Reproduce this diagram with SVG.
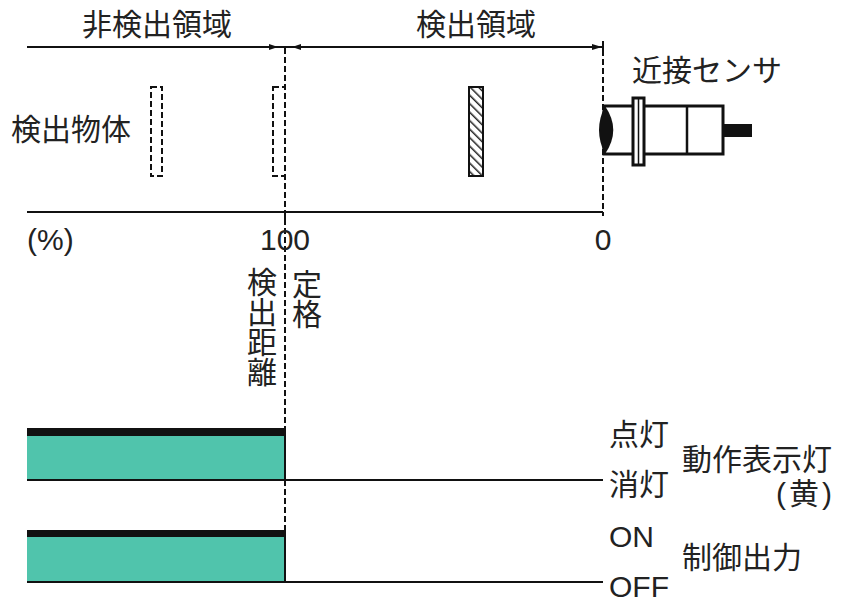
<svg xmlns="http://www.w3.org/2000/svg" width="841" height="605" viewBox="0 0 841 605">
<style>
text{font-family:"Liberation Sans","Noto Sans CJK JP",sans-serif;font-size:30px;fill:#222;}
.ln{stroke:#111;stroke-width:2;fill:none;}
.dash{stroke:#111;stroke-width:2;fill:none;stroke-dasharray:6,3;}
.bar{fill:#50c4ac;}
.band{fill:#111;}
.ah{fill:#111;}
</style>
<defs>
<pattern id="hatch" width="6" height="6" patternUnits="userSpaceOnUse" patternTransform="rotate(-45)">
<rect width="6" height="6" fill="#fff"/>
<line x1="0" y1="0" x2="0" y2="6" stroke="#222" stroke-width="3"/>
</pattern>
</defs>
<rect width="841" height="605" fill="#fff"/>

<g id="connectors">
<line class="ln" x1="27" y1="47" x2="603" y2="47"/>
<polygon class="ah" points="269,44 278,47 269,50"/>
<polygon class="ah" points="292,47 301,44 301,50"/>
<polygon class="ah" points="592,44 602,47 592,50"/>
<line class="ln" x1="603" y1="41" x2="603" y2="50"/>
<line class="dash" x1="285" y1="48" x2="285" y2="582"/>
<line class="dash" x1="603" y1="50" x2="603" y2="212"/>
<line class="ln" x1="27" y1="212" x2="603" y2="212"/>
<line class="ln" x1="285" y1="212" x2="285" y2="222"/>
<line class="ln" x1="603" y1="212" x2="603" y2="216"/>
</g>

<g id="labels-top">
<text x="157" y="35" text-anchor="middle">非検出領域</text>
<text x="476" y="35" text-anchor="middle">検出領域</text>
<text x="11" y="140">検出物体</text>
<text x="27" y="250">(%)</text>
<text x="285" y="250" text-anchor="middle">100</text>
<text x="603" y="250" text-anchor="middle">0</text>
</g>

<g id="object-far">
<rect class="dash" x="151" y="87" width="11" height="89"/>
</g>
<g id="object-limit">
<rect class="dash" x="273" y="87" width="12" height="89"/>
</g>
<g id="object-detected">
<rect x="469" y="87" width="14" height="89" fill="url(#hatch)" stroke="#111" stroke-width="2"/>
</g>

<g id="sensor">
<text x="632" y="81">近接センサ</text>
<rect x="604" y="106" width="119" height="48" fill="#fff" stroke="#111" stroke-width="3"/>
<path d="M605,106 C597,122 597,138 605,154 C616,138 616,122 605,106 Z" fill="#111"/>
<line x1="687" y1="106" x2="687" y2="154" stroke="#111" stroke-width="2.5"/>
<rect x="633" y="98" width="11" height="67" fill="#fff" stroke="#111" stroke-width="3"/>
<line x1="638.5" y1="99" x2="638.5" y2="164" stroke="#111" stroke-width="1.5"/>
<rect x="723" y="124" width="29" height="13" fill="#111"/>
</g>

<g id="distance-labels">
<text x="262" text-anchor="middle"><tspan x="262" y="293">検</tspan><tspan x="262" y="323">出</tspan><tspan x="262" y="353">距</tspan><tspan x="262" y="383">離</tspan></text>
<text x="307" text-anchor="middle"><tspan x="307" y="295">定</tspan><tspan x="307" y="325">格</tspan></text>
</g>

<g id="indicator-chart">
<rect class="bar" x="27" y="436" width="258" height="44"/>
<rect class="band" x="27" y="428" width="258" height="8"/>
<line class="ln" x1="285" y1="428" x2="285" y2="480"/>
<line class="ln" x1="27" y1="480" x2="603" y2="480"/>
<text x="609" y="445">点灯</text>
<text x="609" y="495">消灯</text>
<text x="682" y="470">動作表示灯</text>
<text x="776" y="504" letter-spacing="3">(黄)</text>
</g>

<g id="output-chart">
<rect class="bar" x="27" y="537" width="258" height="45"/>
<rect class="band" x="27" y="530" width="258" height="7"/>
<line class="ln" x1="285" y1="530" x2="285" y2="582"/>
<line class="ln" x1="27" y1="582" x2="603" y2="582"/>
<text x="609" y="547">ON</text>
<text x="609" y="597">OFF</text>
<text x="682" y="568">制御出力</text>
</g>
</svg>
